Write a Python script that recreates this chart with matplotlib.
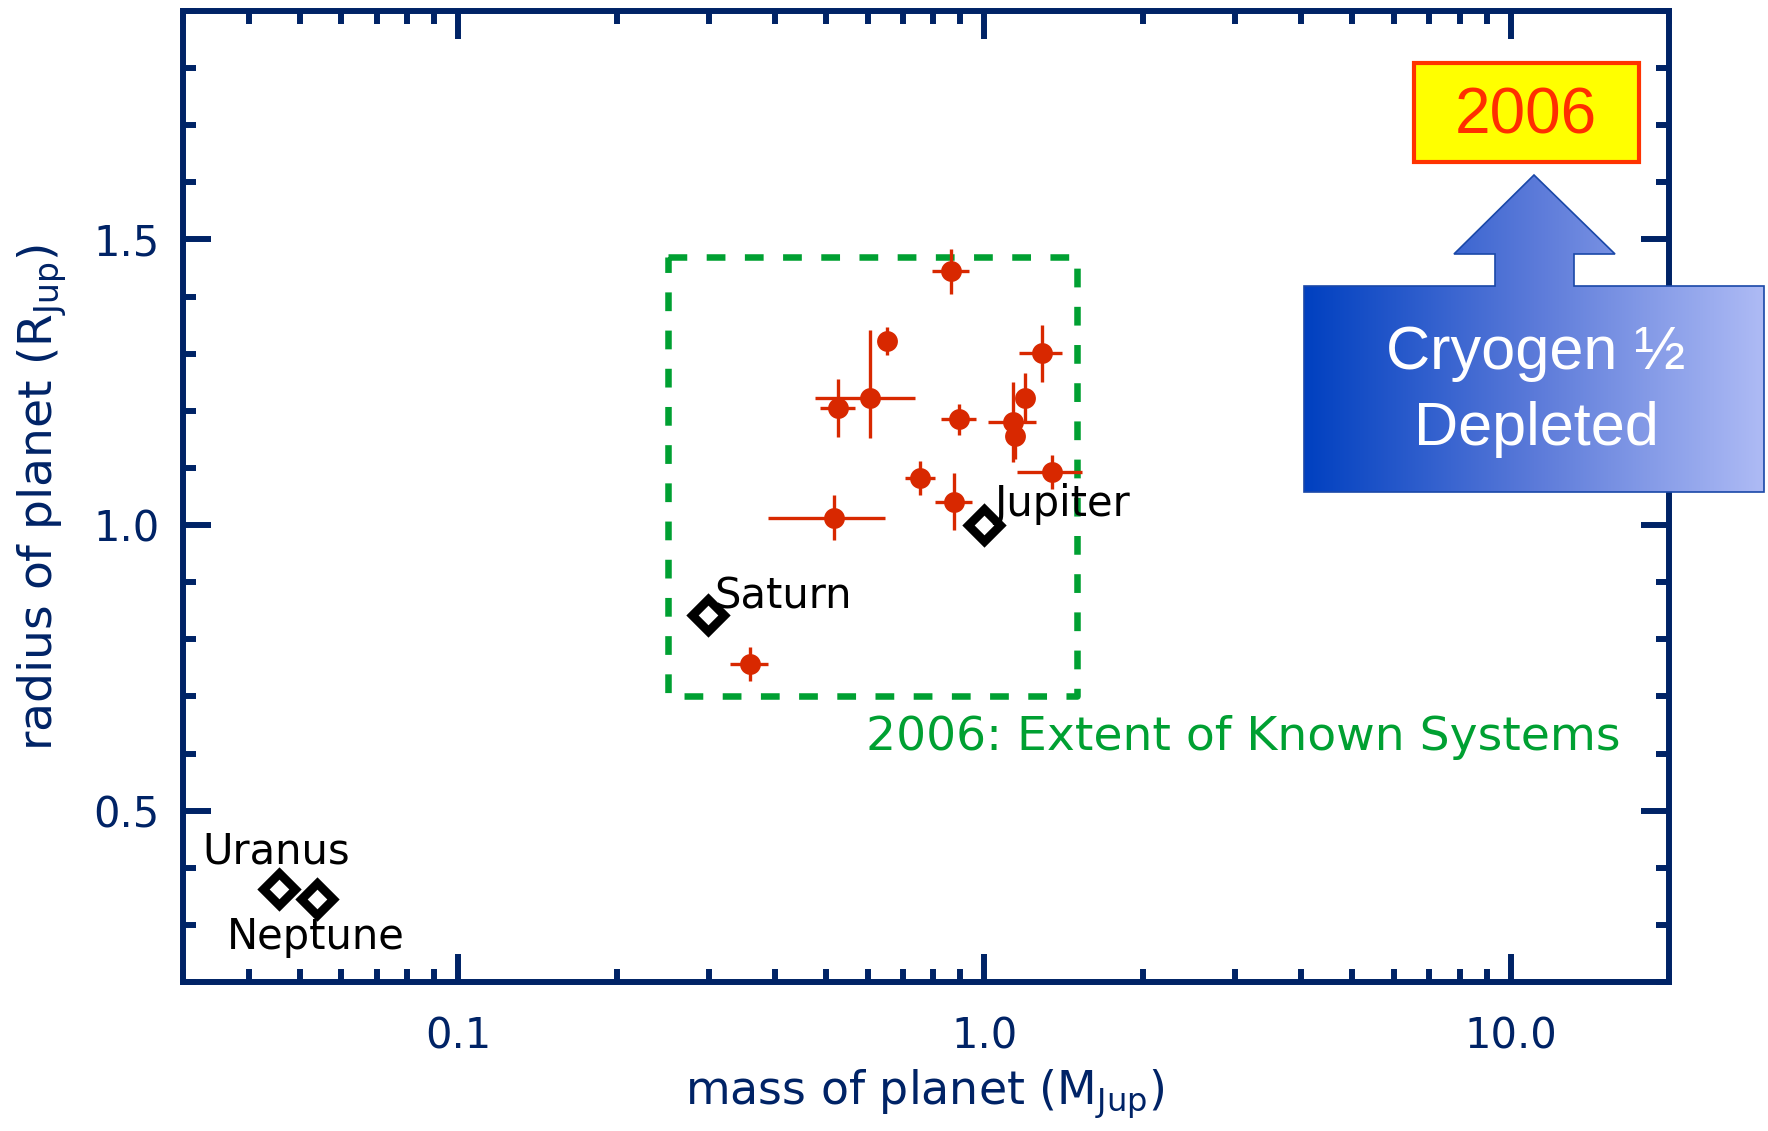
import numpy as np
import matplotlib
matplotlib.use("Agg")
import matplotlib.pyplot as plt
from matplotlib.patches import Polygon, Rectangle
from matplotlib.colors import LinearSegmentedColormap
from matplotlib.ticker import FixedLocator, LogLocator, MultipleLocator, FuncFormatter, NullFormatter

W, H = 1768, 1131
NAVY = "#002366"
RED = "#D82800"
GREEN = "#00A032"

# transiting planets known in 2006 (mass in M_Jup, radius in R_Jup)
mass = [0.864, 0.654, 1.285, 0.607, 0.528, 1.193, 0.896, 1.135, 1.145, 1.345, 0.756, 0.877, 0.518, 0.358]
mass_err = [0.07, 0.0, 0.12, 0.13, 0.04, 0.0, 0.07, 0.12, 0.0, 0.19, 0.05, 0.07, 0.13, 0.03]
radius = [1.444, 1.322, 1.301, 1.222, 1.205, 1.222, 1.185, 1.181, 1.156, 1.093, 1.083, 1.041, 1.013, 0.757]
radius_lo = [0.04, 0.024, 0.05, 0.07, 0.05, 0.04, 0.027, 0.07, 0.04, 0.03, 0.03, 0.05, 0.04, 0.03]
radius_hi = [0.04, 0.024, 0.05, 0.12, 0.05, 0.044, 0.027, 0.07, 0.04, 0.03, 0.03, 0.05, 0.04, 0.03]

# solar system giants
planet_names = ["Jupiter", "Saturn", "Uranus", "Neptune"]
planet_mass = [1.0, 0.299, 0.0457, 0.054]
planet_radius = [1.0, 0.843, 0.362, 0.346]
label_xy = [(1.045, 1.037), (0.307, 0.875), (0.0326, 0.428), (0.0364, 0.279)]

# extent of known systems box
box_mass = [0.25, 1.5]
box_radius = [0.70, 1.47]

x_ticks = [0.1, 1.0, 10.0]
y_ticks = [0.5, 1.0, 1.5]

plt.rcParams.update({
    "font.family": "DejaVu Sans",
    "mathtext.fontset": "dejavusans",
    "lines.scale_dashes": False,
})

fig = plt.figure(figsize=(W / 100, H / 100), dpi=100)
ax = fig.add_axes([183 / W, 1 - 982 / H, (1669 - 183) / W, (982 - 11) / H])
ax.set_xscale("log")
ax.set_xlim(0.03, 20)
ax.set_ylim(0.2, 1.9)

bx = [box_mass[0], box_mass[1], box_mass[1], box_mass[0], box_mass[0]]
by = [box_radius[1], box_radius[1], box_radius[0], box_radius[0], box_radius[1]]
ax.plot(bx, by, color=GREEN, lw=4.7, linestyle=(0, (13.5, 14)), zorder=2)

ax.errorbar(mass, radius, xerr=mass_err, yerr=[radius_lo, radius_hi], fmt="o",
            color=RED, ms=15, mew=0, elinewidth=2.4, capsize=0, zorder=4)
ax.plot(planet_mass, planet_radius, "D", ms=16, mfc="white", mec="black", mew=6.3, zorder=5)
for name, (lx, ly) in zip(planet_names, label_xy):
    ax.text(lx, ly, name, fontsize=30, color="black", ha="left", va="center", zorder=6)

ax.text(3.1, 0.628, "2006: Extent of Known Systems", fontsize=34, color=GREEN,
        ha="center", va="center")

ax.xaxis.set_major_locator(FixedLocator(x_ticks))
ax.xaxis.set_minor_locator(LogLocator(base=10, subs=np.arange(2, 10), numticks=20))
ax.xaxis.set_major_formatter(FuncFormatter(lambda v, p: f"{v:.1f}"))
ax.xaxis.set_minor_formatter(NullFormatter())
ax.yaxis.set_major_locator(FixedLocator(y_ticks))
ax.yaxis.set_minor_locator(MultipleLocator(0.1))
ax.yaxis.set_major_formatter(FuncFormatter(lambda v, p: f"{v:.1f}"))

ax.tick_params(which="both", direction="in", top=True, right=True, color=NAVY,
               width=4.3, labelcolor=NAVY, labelsize=30)
ax.tick_params(which="major", length=20)
ax.tick_params(which="minor", length=9.7)
ax.tick_params(axis="y", pad=17)
ax.tick_params(axis="x", pad=24)
for s in ax.spines.values():
    s.set_linewidth(4.3)
    s.set_color(NAVY)

fig.text(925 / W, 1 - 1094 / H, "mass of planet (M$_{\\mathrm{Jup}}$)", fontsize=33,
         color=NAVY, ha="center", va="center")
fig.text(42 / W, 1 - 497 / H, "radius of planet (R$_{\\mathrm{Jup}}$)", fontsize=34,
         color=NAVY, ha="center", va="center", rotation=90)

# callout overlay in pixel coordinates
ov = fig.add_axes([0, 0, 1, 1], zorder=10)
ov.set_axis_off()
ov.add_patch(Rectangle((1414, 63), 225, 99, facecolor="#FFFF00", edgecolor="#FF3300", lw=3))
ov.text(1526, 116, "2006", fontsize=46, color="#FF2E00", family="Liberation Sans",
        ha="center", va="center")

verts = [(1304, 286), (1495, 286), (1495, 254), (1454, 254), (1534, 175), (1615, 254),
         (1574, 254), (1574, 286), (1764, 286), (1764, 492), (1304, 492)]
poly = Polygon(verts, closed=True, facecolor="none", edgecolor="#1A48A8", lw=1.2, zorder=3)
ov.add_patch(poly)
cmap = LinearSegmentedColormap.from_list("callout", ["#0040C0", "#5B7AD9", "#AEBBF5"])
grad = np.linspace(0, 1, 256).reshape(1, -1)
im = ov.imshow(grad, cmap=cmap, extent=(1304, 1764, 492, 175), aspect="auto", zorder=1)
im.set_clip_path(poly)
ov.text(1536, 353, "Cryogen ½", fontsize=44, color="white", family="Liberation Sans",
        ha="center", va="center", zorder=4)
ov.text(1536, 430, "Depleted", fontsize=44, color="white", family="Liberation Sans",
        ha="center", va="center", zorder=4)
ov.set_xlim(0, W)
ov.set_ylim(H, 0)

fig.savefig("out.png", dpi=100)
